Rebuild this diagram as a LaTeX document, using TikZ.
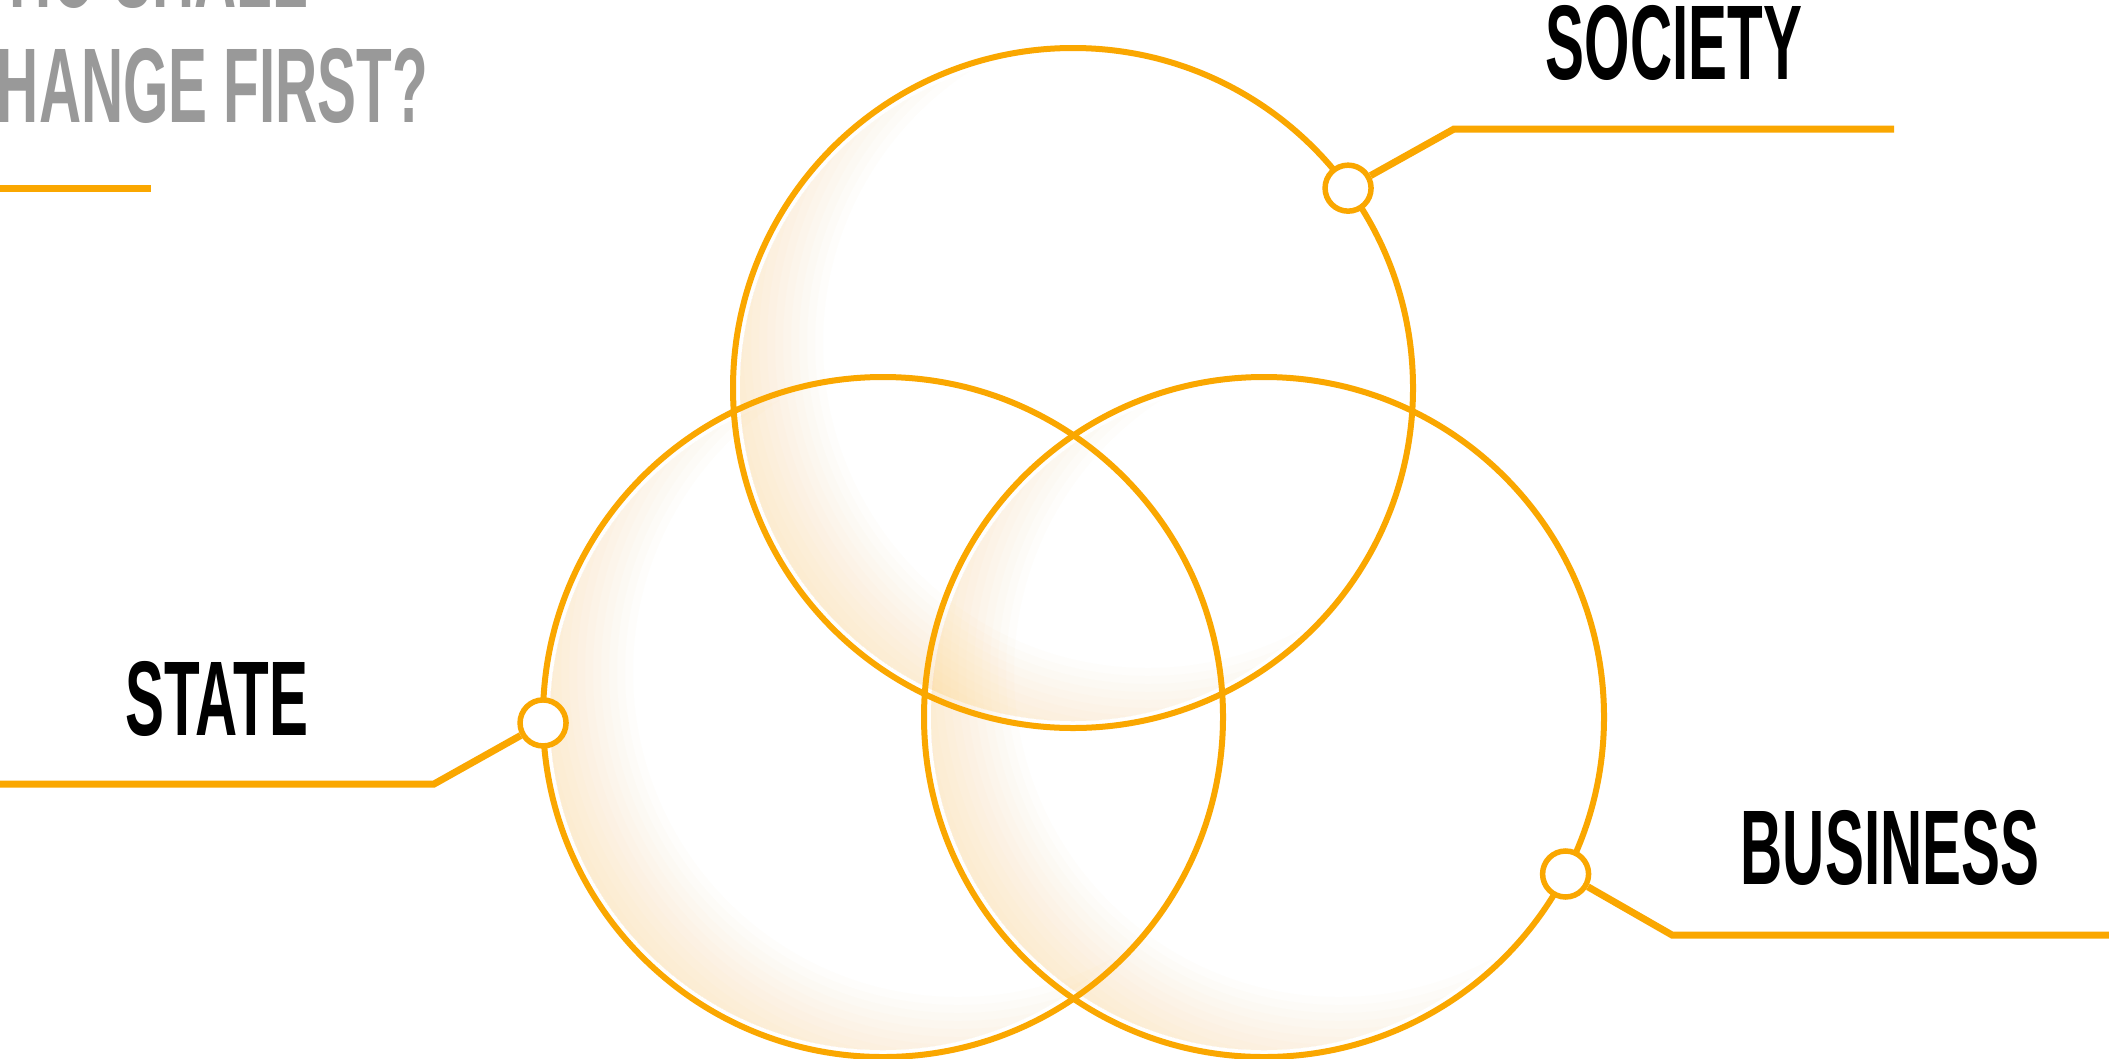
\documentclass[tikz,border=0pt]{standalone}
\usepackage{fontspec}
\usepackage{tikz}
\usetikzlibrary{calc}
\usetikzlibrary{positioning}
\usepackage[x11names, svgnames, rgb]{xcolor}

\newfontfamily\tagfont{Liberation Sans}[FakeStretch=0.55]
\definecolor{venn}{RGB}{250,167,0}
\definecolor{rimcream}{RGB}{252,200,90}
\definecolor{titlegray}{RGB}{153,153,153}

\begin{document}
\begin{tikzpicture}[
		x=0.1mm, y=-0.1mm,
		ring/.style={draw=venn, line width=0.6mm},
		dot/.style={
				circle,
				draw=venn,
				fill=white,
				line width=0.55mm,
				minimum size=4.6mm,
				inner sep=0pt
			},
		leader/.style={draw=venn, line width=0.7mm},
		tagtext/.style={
				font=\tagfont\bfseries\fontsize{30.2}{36}\selectfont,
				inner sep=0pt,
				anchor=base
			},
		glow/.style={fill=rimcream, fill opacity=0.022, even odd rule}
	]
	\fill[white] (0,0) rectangle (2109,1058);
	\useasboundingbox (0,0) rectangle (2109,1058);

	\coordinate (topc) at (1073,388);
	\coordinate (leftc) at (883,717);
	\coordinate (rightc) at (1264,717);

	% soft cream inside each ring, thicker towards the lower left
	\foreach \c in {topc, leftc, rightc} {
			\begin{scope}
				\clip (\c) circle (333);
				\foreach \r in {325,333,...,445}
				\fill[glow] (\c) circle (340) ($(\c)+(75,-45)$) circle (\r);
			\end{scope}
		}

	\draw[ring] (topc) circle (340);
	\draw[ring] (leftc) circle (340);
	\draw[ring] (rightc) circle (340);

	% title, cut by the page edge
	\node[tagtext, anchor=base west, text=titlegray] (title1) at (-46,7) {WHO SHALL};
	\node[tagtext, anchor=base west, text=titlegray] (title2) at (-46,122) {CHANGE FIRST?};
	\coordinate (barL) at (0,188);
	\coordinate (barR) at (151,188);
	\draw[leader] (barL) -- (barR);

	% society
	\node[dot] (socdot) at ($(topc)+(-36:340)$) {};
	\coordinate (socbend) at (1454,129);
	\coordinate (socend) at (1894,129);
	\draw[leader] (socdot) -- (socbend) -- (socend);
	\node[tagtext] (society) at (1674,79) {SOCIETY};

	% state
	\node[dot] (statedot) at ($(leftc)+(179:340)$) {};
	\coordinate (statebend) at (434,784);
	\coordinate (stateend) at (0,784);
	\draw[leader] (statedot) -- (statebend) -- (stateend);
	\node[tagtext] (state) at (217,735) {STATE};

	% business
	\node[dot] (busdot) at ($(rightc)+(27.5:340)$) {};
	\coordinate (busbend) at (1672,935);
	\coordinate (busend) at (2109,935);
	\draw[leader] (busdot) -- (busbend) -- (busend);
	\node[tagtext] (business) at (1890,884) {BUSINESS};
\end{tikzpicture}
\end{document}
